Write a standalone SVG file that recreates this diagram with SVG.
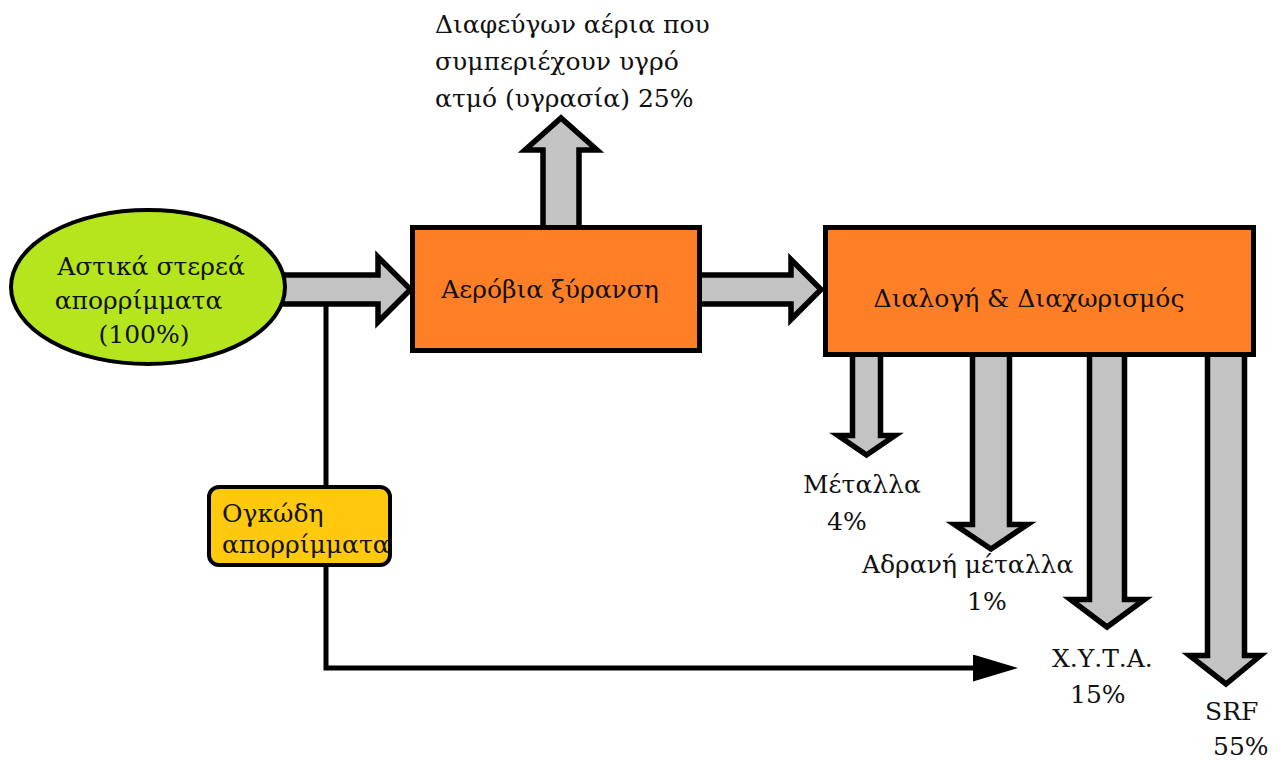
<svg xmlns="http://www.w3.org/2000/svg" width="1281" height="760" viewBox="0 0 1281 760">
<defs>
<style>
.blk{fill:#c3c3c3;stroke:#000;stroke-width:5.5;stroke-linejoin:miter;stroke-miterlimit:10;}
.box{fill:#ff7f27;stroke:#000;stroke-width:5;}
.ln{fill:none;stroke:#000;stroke-width:5;}
</style>
<marker id="ah" markerUnits="userSpaceOnUse" markerWidth="46" markerHeight="28" refX="2" refY="13.5" orient="auto">
<path d="M0,0 L45,13.5 L0,27 Z" fill="#000"/>
</marker>
</defs>
<rect width="1281" height="760" fill="#fff"/>
<g id="connectors">
<path class="ln" d="M326,300 V668 H975" marker-end="url(#ah)"/>
<path class="blk" d="M280,275 H378 V257 L410.5,289.5 L378,322 V304 H280 Z"/>
<path class="blk" d="M698,275 H791 V259.5 L821,289.5 L791,319.5 V304 H698 Z"/>
<path class="blk" d="M543,232 V150 H525 L561,118 L597,150 H579 V232 Z"/>
<path class="blk" d="M852.5,350 V435.5 H838 L866.5,455 L895,435.5 H880.5 V350 Z"/>
<path class="blk" d="M972.5,350 V524.5 H954.5 L991,549 L1027.5,524.5 H1009.5 V350 Z"/>
<path class="blk" d="M1089.5,350 V599.5 H1070.5 L1107,627 L1144.5,599.5 H1124.5 V350 Z"/>
<path class="blk" d="M1207.5,350 V655.5 H1189.5 L1226,684 L1260.5,655.5 H1244.5 V350 Z"/>
</g>
<g font-family="DejaVu Serif, serif" font-size="25" fill="#111">
<g id="node-source">
<ellipse cx="148" cy="287" rx="137" ry="77" fill="#b5e61d" stroke="#000" stroke-width="4"/>
<text x="151" y="275" text-anchor="middle">Αστικά στερεά</text>
<text x="138.5" y="309" text-anchor="middle">απορρίμματα</text>
<text x="144" y="343" text-anchor="middle">(100%)</text>
</g>
<g id="node-drying">
<rect class="box" x="412.5" y="227.5" width="287" height="123"/>
<text x="550" y="298" text-anchor="middle">Αερόβια ξύρανση</text>
</g>
<g id="node-sorting">
<rect class="box" x="825.5" y="227.5" width="428" height="127"/>
<text x="1029" y="307" text-anchor="middle">Διαλογή &amp; Διαχωρισμός</text>
</g>
<g id="node-bulky">
<rect x="209" y="487" width="181" height="78" rx="10" fill="#ffc90e" stroke="#000" stroke-width="4"/>
<text x="222" y="522">Ογκώδη</text>
<text x="222" y="553">απορρίμματα</text>
</g>
<g id="label-gases">
<text x="435" y="33">Διαφεύγων αέρια που</text>
<text x="435" y="70">συμπεριέχουν υγρό</text>
<text x="435" y="107">ατμό (υγρασία) 25%</text>
</g>
<g id="label-metals">
<text x="803" y="493">Μέταλλα</text>
<text x="827" y="530">4%</text>
</g>
<g id="label-inert">
<text x="862" y="573">Αδρανή μέταλλα</text>
<text x="967" y="610">1%</text>
</g>
<g id="label-landfill">
<text x="1052" y="667">Χ.Υ.Τ.Α.</text>
<text x="1070" y="703">15%</text>
</g>
<g id="label-srf">
<text x="1205" y="720">SRF</text>
<text x="1213" y="755">55%</text>
</g>
</g>
</svg>
